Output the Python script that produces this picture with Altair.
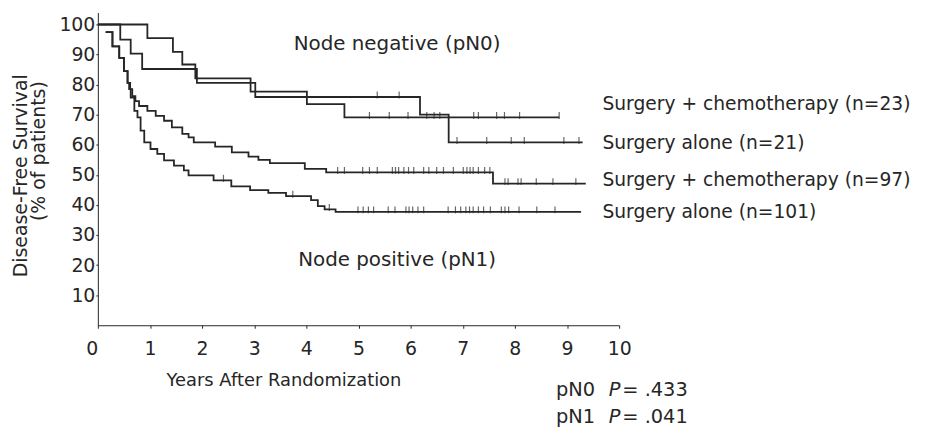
import bisect
import altair as alt
import pandas as pd

# ---------------- data ----------------
# Kaplan-Meier curves: times (years) and survival (%) as step-after points
pn0_chemo_t = [0, 0.95, 1.44, 1.62, 1.87, 2.93, 4.01, 4.73, 8.85]
pn0_chemo_s = [100, 95.5, 90.9, 86.7, 82.1, 77.7, 73.5, 69.1, 69.1]

pn0_surg_t = [0, 0.43, 0.63, 0.85, 1.90, 3.02, 6.18, 6.73, 9.30]
pn0_surg_s = [100, 95.0, 90.3, 85.2, 80.6, 75.9, 70.0, 60.8, 60.8]

pn1_chemo_t = [0.15, 0.28, 0.41, 0.50, 0.57, 0.62, 0.66, 0.72, 0.79, 0.95, 1.11,
               1.27, 1.42, 1.62, 1.74, 1.84, 2.25, 2.57, 2.89, 3.08, 3.30, 3.97,
               4.38, 7.58, 9.36]
pn1_chemo_s = [97.5, 92.7, 88.9, 84.5, 80.6, 78.5, 76.2, 74.5, 72.9, 71.3, 69.6,
               68.0, 65.8, 63.6, 62.5, 60.8, 59.4, 57.5, 56.1, 55.0, 53.9, 52.0,
               50.8, 47.1, 47.1]

pn1_surg_t = [0.15, 0.28, 0.41, 0.50, 0.57, 0.60, 0.63, 0.70, 0.76, 0.82, 0.89,
              1.01, 1.14, 1.27, 1.46, 1.65, 1.74, 2.22, 2.56, 2.92, 3.27, 3.61,
              4.09, 4.22, 4.35, 4.56, 9.27]
pn1_surg_s = [97.5, 92.7, 88.9, 84.5, 80.6, 78.5, 75.7, 71.3, 69.1, 64.7, 60.8,
              58.6, 57.0, 54.8, 53.1, 51.5, 49.8, 48.2, 46.2, 44.9, 44.0, 42.9,
              41.6, 39.6, 38.5, 37.7, 37.7]

# censoring marks (years)
pn0_chemo_cens = [5.21, 5.59, 5.95, 6.31, 6.45, 6.56, 7.21, 7.30, 7.65, 7.80, 8.09, 8.85]
pn0_surg_cens = [5.36, 5.78, 6.89, 7.46, 7.93, 8.18, 8.94, 9.23]
pn1_chemo_cens = [4.60, 4.73, 5.08, 5.21, 5.36, 5.65, 5.71, 5.77, 5.87, 5.96, 6.06,
                  6.25, 6.35, 6.50, 6.63, 6.82, 7.01, 7.08, 7.14, 7.20, 7.30, 7.42,
                  7.52, 7.81, 7.87, 8.06, 8.12, 8.41, 8.73, 9.17]
pn1_surg_cens = [2.41, 3.74, 4.44, 4.99, 5.09, 5.19, 5.29, 5.57, 5.70, 5.91, 5.97,
                 6.04, 6.14, 6.25, 6.72, 6.86, 6.96, 7.06, 7.13, 7.20, 7.30, 7.40,
                 7.53, 7.74, 7.81, 7.88, 8.08, 8.42, 8.77]

x_ticks = [0, 1, 2, 3, 4, 5, 6, 7, 8, 9, 10]
y_ticks = [10, 20, 30, 40, 50, 60, 70, 80, 90, 100]

right_labels = ["Surgery + chemotherapy (n=23)", "Surgery alone (n=21)",
                "Surgery + chemotherapy (n=97)", "Surgery alone (n=101)"]
right_label_y = [73.5, 60.6, 48.3, 37.7]
group_labels = ["Node negative (pN0)", "Node positive (pN1)"]
group_label_x = [5.74, 5.74]
group_label_y = [93.4, 21.8]
p_groups = ["pN0", "pN1"]
p_values = ["= .433", "= .041"]
p_y = [-21.5, -30.6]

# ---------------- build tables ----------------
series = {
    "pn0_chemo": (pn0_chemo_t, pn0_chemo_s, pn0_chemo_cens),
    "pn0_surg": (pn0_surg_t, pn0_surg_s, pn0_surg_cens),
    "pn1_chemo": (pn1_chemo_t, pn1_chemo_s, pn1_chemo_cens),
    "pn1_surg": (pn1_surg_t, pn1_surg_s, pn1_surg_cens),
}


def step_value(ts, ss, t):
    i = max(bisect.bisect_right(ts, t) - 1, 0)
    return ss[i]


curve_rows, cens_rows = [], []
for name, (ts, ss, cs) in series.items():
    for t, s in zip(ts, ss):
        curve_rows.append({"series": name, "t": t, "s": s})
    for c in cs:
        cens_rows.append({"series": name, "t": c, "s": step_value(ts, ss, c)})
curves = pd.DataFrame(curve_rows)
cens = pd.DataFrame(cens_rows)

FONT = "DejaVu Sans"
INK = "#262626"

xscale = alt.Scale(domain=[0, 10], nice=False, zero=False)
yscale = alt.Scale(domain=[0, 104], nice=False, zero=True)

x_axis = alt.Axis(values=x_ticks, title=None, grid=False, tickSize=3, labelPadding=11,
                  labelFontSize=19, labelFont=FONT, labelColor=INK, domainColor=INK,
                  tickColor=INK, labelFlush=False, labelOverlap=False, labelBound=False,
                  labelAlign={"expr": "datum.value == 0 ? 'right' : 'center'"})
y_axis = alt.Axis(values=y_ticks, title=None, grid=False, tickSize=2, labelPadding=1,
                  labelFontSize=19, labelFont=FONT, labelColor=INK, domainColor=INK,
                  tickColor=INK, labelFlush=False, labelOverlap=False, labelBound=False)

# every layer uses the same fields and the same axis definitions
X = alt.X("t:Q", scale=xscale, axis=x_axis)
Y = alt.Y("s:Q", scale=yscale, axis=y_axis)

lines = alt.Chart(curves).mark_line(interpolate="step-after", color=INK, strokeWidth=1.8).encode(
    x=X, y=Y, detail="series:N")

ticks = alt.Chart(cens).mark_tick(orient="vertical", color=INK, size=7, thickness=1.2,
                                  yOffset=-2).encode(x=X, y=Y)


def text_layer(texts, xs, ys, align="left", size=19.5, **kw):
    df = pd.DataFrame({"text": texts, "t": xs, "s": ys})
    return alt.Chart(df).mark_text(align=align, baseline="middle", font=FONT,
                                   fontSize=size, color=INK, **kw).encode(
        x=X, y=Y, text="text:N")


right_text = text_layer(right_labels, [9.68] * 4, right_label_y, size=18.8)
group_text = text_layer(group_labels, group_label_x, group_label_y, align="center", size=20)
pg_text = text_layer(p_groups, [8.79, 8.79], p_y)
pP_text = text_layer(["P", "P"], [9.80, 9.80], p_y, fontStyle="italic")
pv_text = text_layer(p_values, [10.06, 10.06], p_y)
xt_text = text_layer(["Years After Randomization"], [3.57], [-18.5], align="center", size=18)
yt_text = text_layer(["Disease-Free Survival", "(% of patients)"], [-1.47, -1.13],
                     [49.7, 57.9], align="center", size=19, angle=270)

chart = alt.layer(lines, ticks, right_text, group_text, pg_text, pP_text, pv_text,
                  xt_text, yt_text).properties(
    width=525, height=315,
    autosize=alt.AutoSizeParams(type="none"),
    padding={"left": 90.5, "top": 3, "right": 300, "bottom": 105},
    background="white",
).configure_view(strokeWidth=0).configure_axis(
    labelOverlap=False, labelFlush=False, labelBound=False, grid=False
)

chart.save("out.html", embed_options={"renderer": "svg", "actions": False})
